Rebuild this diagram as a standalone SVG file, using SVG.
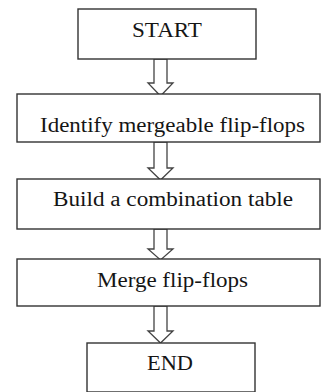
<svg xmlns="http://www.w3.org/2000/svg" width="321" height="392" viewBox="0 0 321 392">
<style>
.box{fill:#fff;stroke:#333;stroke-width:1.4}
.arr{fill:#fff;stroke:#444;stroke-width:1.3;stroke-linejoin:miter}
.t{font-family:'Liberation Serif','Times New Roman',serif;font-size:20px;fill:#151515;text-anchor:middle}
</style>
<rect width="321" height="392" fill="#fff"/>
<g id="connectors">
<polygon class="arr" points="154,59 154,83 148,83 160.5,96 173,83 167,83 167,59"/>
<polygon class="arr" points="154,142 154,168 148,168 160.5,180 173,168 167,168 167,142"/>
<polygon class="arr" points="154,229 154,249 148,249 160.5,260 173,249 167,249 167,229"/>
<polygon class="arr" points="154,306 154,331 148,331 160.5,343 173,331 167,331 167,306"/>
</g>
<g id="start"><rect class="box" x="78" y="9" width="178" height="50"/><text class="t" x="167" y="37" textLength="70" lengthAdjust="spacingAndGlyphs">START</text></g>
<g id="identify"><rect class="box" x="17" y="94" width="303" height="48"/><text class="t" x="172.5" y="132" textLength="265" lengthAdjust="spacingAndGlyphs">Identify mergeable flip-flops</text></g>
<g id="build"><rect class="box" x="17" y="179" width="303" height="50"/><text class="t" x="173" y="206" textLength="240" lengthAdjust="spacingAndGlyphs">Build a combination  table</text></g>
<g id="merge"><rect class="box" x="17" y="259" width="303" height="47"/><text class="t" x="172.5" y="287" textLength="151" lengthAdjust="spacingAndGlyphs">Merge flip-flops</text></g>
<g id="end"><rect class="box" x="87" y="343" width="168" height="49"/><text class="t" x="170" y="370" textLength="46" lengthAdjust="spacingAndGlyphs">END</text></g>
</svg>
